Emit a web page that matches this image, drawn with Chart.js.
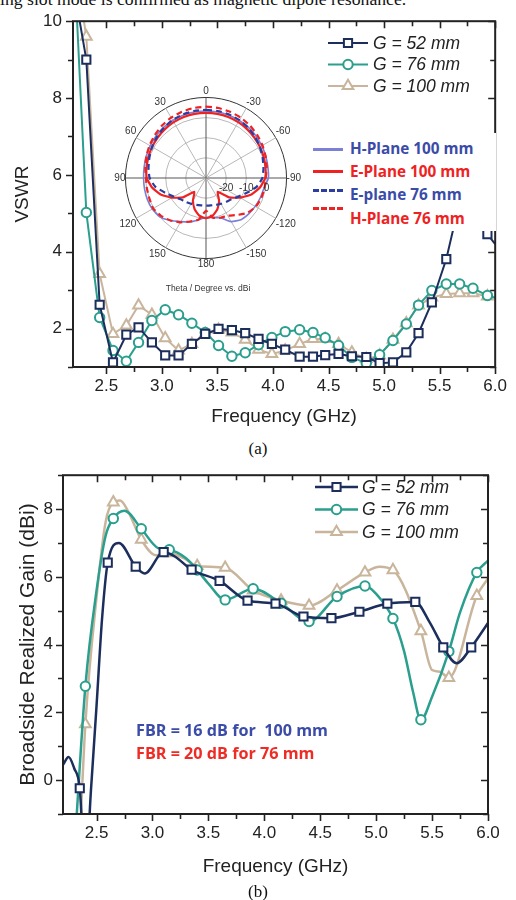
<!DOCTYPE html>
<html>
<head>
<meta charset="utf-8">
<script src="https://cdn.jsdelivr.net/npm/chart.js@4.4.1/dist/chart.umd.min.js"></script>
<style>
    html, body { margin: 0; padding: 0; background: #fff; }
    body { width: 516px; height: 900px; position: relative; overflow: hidden; font-family: "Liberation Sans", Arial, sans-serif; }
    .abs { position: absolute; }
    .serif { font-family: "Liberation Serif", "Times New Roman", serif; color: #111; white-space: nowrap; }
    #polarLegend { left: 306px; top: 133px; width: 190px; height: 98px; background: #fff; }
    #polarLegend .sample { position: absolute; left: 7px; width: 30px; height: 0; }
    #polarLegend .txt { position: absolute; left: 44px; font: 700 15.3px "Open Sans", sans-serif; line-height: 20px; white-space: nowrap; }
    .fbr { font: 700 16.2px "Open Sans", sans-serif; line-height: 20px; white-space: nowrap; }
</style>
</head>
<body>
<div class="abs serif" style="left:0; top:-9px; font-size:17.7px; line-height:17px;">ing slot mode is confirmed as magnetic dipole resonance.</div>

<canvas id="vswrChart" class="abs" width="516" height="430" style="left:0; top:0;"></canvas>
<canvas id="polarChart" class="abs" width="190" height="190" style="left:113px; top:83px;"></canvas>
<div class="abs" style="left:108px; top:283px; width:200px; text-align:center; font-size:8.5px; color:#333;">Theta / Degree vs. dBi</div>

<div id="polarLegend" class="abs">
    <div class="sample" style="top:15px; border-top:3px solid #7b7fd6;"></div>
    <div class="txt" style="top:5px; color:#3b4ba8;">H-Plane 100 mm</div>
    <div class="sample" style="top:37px; border-top:3px solid #ee2222;"></div>
    <div class="txt" style="top:28px; color:#ee2222;">E-Plane 100 mm</div>
    <div class="sample" style="top:56px; border-top:3px dashed #2b3da0;"></div>
    <div class="txt" style="top:51px; color:#3b4ba8;">E-plane 76 mm</div>
    <div class="sample" style="top:74px; border-top:3px dashed #ee2222;"></div>
    <div class="txt" style="top:75px; color:#ee2222;">H-Plane 76 mm</div>
</div>

<div class="abs serif" style="left:0; width:516px; top:439px; text-align:center; font-size:17px;">(a)</div>

<canvas id="gainChart" class="abs" width="516" height="430" style="left:0; top:455px;"></canvas>
<div class="abs fbr" style="left:136px; top:720px; color:#3b4ba8;">FBR = 16 dB for&nbsp; 100 mm</div>
<div class="abs fbr" style="left:136px; top:743px; color:#ef2b25;">FBR = 20 dB for 76 mm</div>

<div class="abs serif" style="left:0; width:516px; top:882px; text-align:center; font-size:17px;">(b)</div>

<script>
// (a) VSWR vs frecuencia
const freqVswr = [2.2, 2.32, 2.44, 2.56, 2.68, 2.79, 2.91, 3.03, 3.15, 3.27, 3.39, 3.51, 3.63, 3.75, 3.87, 3.99, 4.11,
    4.24, 4.36, 4.47, 4.59, 4.71, 4.84, 4.96, 5.08, 5.2, 5.31, 5.43, 5.56, 5.68, 5.8, 5.93, 6.0];
const vswr52 = [11.0, 9.0, 2.62, 1.12, 1.84, 2.03, 1.64, 1.3, 1.3, 1.6, 1.86, 1.99, 1.96, 1.88, 1.73, 1.6, 1.45,
    1.27, 1.27, 1.31, 1.34, 1.28, 1.26, 1.1, 1.12, 1.38, 1.88, 2.68, 3.81, 5.3, 5.0, 4.46, 4.2];
const vswr76 = [12.2, 5.02, 2.29, 1.43, 1.15, 1.64, 2.21, 2.49, 2.36, 2.14, 1.9, 1.56, 1.28, 1.37, 1.58, 1.77, 1.92,
    1.97, 1.9, 1.76, 1.56, 1.25, 1.1, 1.32, 1.69, 2.12, 2.61, 2.99, 3.16, 3.16, 3.05, 2.86, 2.8];
const vswr100 = [11.8, 9.6, 3.42, 1.86, 2.08, 2.6, 2.36, 1.75, 1.43, 1.6, 1.86, 1.97, 1.9, 1.71, 1.45, 1.34, 1.43,
    1.6, 1.73, 1.73, 1.6, 1.38, 1.21, 1.3, 1.71, 2.14, 2.6, 2.81, 2.9, 2.92, 2.92, 2.84, 2.82];
const vswrTicks = [2, 4, 6, 8, 10];
const freqTicks = [2.5, 3.0, 3.5, 4.0, 4.5, 5.0, 5.5, 6.0];

// (b) ganancia broadside
const freqGain52 = [2.2, 2.25, 2.3, 2.35, 2.4, 2.45, 2.5, 2.55, 2.6, 2.7, 2.85, 2.93, 3.1, 3.2, 3.35, 3.6, 3.85, 4.1,
    4.35, 4.6, 4.85, 5.1, 5.35, 5.48, 5.6, 5.72, 5.85, 6.0];
const gain52 = [0.45, 0.68, 0.35, -0.24, -2.8, -0.3, 2.2, 4.8, 6.42, 7.0, 6.3, 6.1, 6.73, 6.6, 6.21, 5.88, 5.3, 5.21,
    4.83, 4.78, 4.97, 5.21, 5.26, 4.65, 3.92, 3.45, 3.92, 4.64];
const marks52 = [2.35, 2.6, 2.85, 3.1, 3.35, 3.6, 3.85, 4.1, 4.35, 4.6, 4.85, 5.1, 5.35, 5.6, 5.85];

const freqGain76 = [2.3, 2.4, 2.5, 2.58, 2.65, 2.75, 2.9, 3.05, 3.15, 3.3, 3.4, 3.5, 3.65, 3.9, 4.15, 4.4, 4.65, 4.9,
    5.0, 5.15, 5.25, 5.33, 5.4, 5.5, 5.65, 5.75, 5.9, 6.0];
const gain76 = [-2.2, 2.77, 5.6, 7.2, 7.72, 7.95, 7.42, 6.85, 6.8, 6.55, 6.2, 5.8, 5.32, 5.65, 5.22, 4.68, 5.42, 5.73,
    5.5, 4.77, 3.8, 2.6, 1.78, 2.46, 3.8, 4.95, 6.13, 6.48];

const freqGain100 = [2.34, 2.4, 2.5, 2.58, 2.65, 2.71, 2.78, 2.9, 3.03, 3.15, 3.28, 3.4, 3.65, 3.9, 4.15, 4.4, 4.65,
    4.9, 5.03, 5.15, 5.4, 5.5, 5.57, 5.65, 5.9, 6.0];
const gain100 = [-2.5, 1.65, 5.4, 7.6, 8.2, 8.25, 7.95, 7.1, 6.64, 6.7, 6.55, 6.32, 6.27, 5.6, 5.3, 5.15, 5.6,
    6.13, 6.3, 6.2, 4.4, 3.25, 3.2, 3.02, 5.44, 5.95];
const marks76 = [2.4, 2.65, 2.9, 3.15, 3.4, 3.65, 3.9, 4.15, 4.4, 4.65, 4.9, 5.15, 5.4, 5.65, 5.9];
const gainTicks = [0, 2, 4, 6, 8];

// patron de radiacion (inset), theta en sentido horario desde arriba
const thetaLabels = [0, -10, -20, -30, -40, -50, -60, -70, -80, -90, -100, -110, -120, -130, -140, -150, -160, -170,
    180, 170, 160, 150, 140, 130, 120, 110, 100, 90, 80, 70, 60, 50, 40, 30, 20, 10];
const hPlane100 = [3.3, 3.3, 3.2, 3.0, 2.8, 2.4, 2.0, 1.6, 1.2, 1.0, -0.8, -1.3, -1.8, -2.3, -3.0, -5.0, -9.0, -10.0,
    -10.5, -9.0, -6.8, -5.0, -2.5, 0.0, 0.8, 1.0, 1.0, 1.0, 1.2, 1.6, 2.0, 2.4, 2.8, 3.0, 3.2, 3.3];
const ePlane100 = [2.3, 2.3, 2.2, 2.0, 1.7, 1.3, 0.9, 0.5, 0.0, -0.6, -2.8, -6.0, -10.5, -15.0, -21.0, -17.0, -13.5, -11.0,
    -10.0, -11.0, -13.5, -17.0, -21.0, -15.0, -10.5, -6.0, -2.8, -0.6, 0.0, 0.5, 0.9, 1.3, 1.7, 2.0, 2.2, 2.3];
const ePlane76 = [3.8, 3.8, 3.6, 3.2, 2.6, 1.8, 0.9, -0.1, -1.0, -2.0, -4.5, -8.5, -11.5, -13.5, -14.5, -15.2, -15.8, -16.2,
    -16.3, -16.2, -15.8, -15.2, -14.5, -13.5, -11.5, -8.5, -4.5, -2.0, -1.0, -0.1, 0.9, 1.8, 2.6, 3.2, 3.6, 3.8];
const hPlane76 = [5.4, 5.3, 5.0, 4.6, 4.0, 3.2, 2.4, 1.5, 0.6, -0.3, -0.5, -0.8, -1.5, -3.1, -6.0, -8.4, -9.0, -10.0,
    -13.7, -9.0, -7.0, -4.6, -2.5, -0.8, 0.3, -0.1, -0.2, -0.2, 0.6, 1.5, 2.4, 3.2, 4.0, 4.6, 5.0, 5.3];
const ringTicks = [-20, -10, 0];

const FONT = '"Liberation Sans", Arial, sans-serif';
const NAVY = '#1c2e5c', TEAL = '#2a9f8e', TAN = '#c9b59c';
const markerSize = { rect: 5.8, circle: 4.7, triangle: 6.2 };

function toPoints(xs, ys) {
    return xs.map((x, i) => ({ x: x, y: ys[i] }));
}

function isMark(list, x) {
    return list.some(m => Math.abs(m - x) < 1e-6);
}

// marcas de los ejes: hacia afuera abajo/izquierda, hacia adentro arriba/derecha, y el marco
const framePlugin = {
    id: 'frame',
    afterDraw(chart) {
        const { ctx, chartArea: a, scales } = chart;
        ctx.save();
        ctx.strokeStyle = '#222';
        ctx.lineWidth = 1.6;
        ctx.beginPath();
        scales.x.ticks.forEach(t => {
            const px = Math.round(scales.x.getPixelForValue(t.value)) + 0.5;
            const len = t.label !== '' ? 7 : 5;
            ctx.moveTo(px, a.bottom); ctx.lineTo(px, a.bottom + len);
            ctx.moveTo(px, a.top); ctx.lineTo(px, a.top + len);
        });
        scales.y.ticks.forEach(t => {
            const py = Math.round(scales.y.getPixelForValue(t.value)) + 0.5;
            const len = t.label !== '' ? 7 : 5;
            ctx.moveTo(a.left, py); ctx.lineTo(a.left - len, py);
            ctx.moveTo(a.right, py); ctx.lineTo(a.right - len, py);
        });
        ctx.stroke();
        ctx.lineWidth = 2;
        ctx.strokeRect(a.left, a.top, a.right - a.left, a.bottom - a.top);
        ctx.restore();
    }
};

// leyenda con linea + marcador, como en el original
const seriesLegend = {
    id: 'seriesLegend',
    afterDraw(chart, args, opts) {
        const ctx = chart.ctx;
        chart.data.datasets.forEach((ds, i) => {
            const y = opts.y + i * opts.dy;
            ctx.save();
            ctx.strokeStyle = ds.borderColor;
            ctx.lineWidth = ds.borderWidth;
            ctx.beginPath();
            ctx.moveTo(opts.x, y);
            ctx.lineTo(opts.x + opts.w, y);
            ctx.stroke();
            ctx.fillStyle = '#fff';
            ctx.lineWidth = 2;
            Chart.helpers.drawPoint(ctx, { pointStyle: ds.pointStyle, radius: markerSize[ds.pointStyle], borderWidth: 2, rotation: 0 },
                opts.x + opts.w / 2, y);
            ctx.fillStyle = '#222';
            ctx.font = 'italic 17.5px ' + FONT;
            ctx.textBaseline = 'middle';
            ctx.fillText(ds.label, opts.textX, y + 1);
            ctx.restore();
        });
    }
};

function freqAxis(height, titlePad) {
    return {
        type: 'linear', min: 2.2, max: 6.0,
        grid: { display: false, drawTicks: false },
        border: { display: false },
        afterBuildTicks: s => { s.ticks = s.ticks.filter(t => Math.abs(t.value * 4 - Math.round(t.value * 4)) < 1e-6); },
        afterFit: s => { s.height = height; },
        ticks: {
            stepSize: 0.25, autoSkip: false, maxRotation: 0, padding: 9, color: '#222',
            font: { size: 17, family: FONT },
            callback: v => isMark(freqTicks, v) ? v.toFixed(1) : ''
        },
        title: { display: true, text: 'Frequency (GHz)', color: '#222', font: { size: 19, family: FONT }, padding: { top: 0, bottom: titlePad } }
    };
}

function valueAxis(min, max, labels, width, title, titleSize, titlePad, pad) {
    return {
        type: 'linear', min: min, max: max,
        grid: { display: false, drawTicks: false },
        border: { display: false },
        afterFit: s => { s.width = width; },
        ticks: {
            stepSize: 1, autoSkip: false, padding: pad, color: '#222',
            font: { size: 17, family: FONT },
            callback: v => labels.includes(v) ? String(v) : ''
        },
        title: { display: true, text: title, color: '#222', font: { size: titleSize, family: FONT }, padding: { top: titlePad, bottom: 0 } }
    };
}

function series(label, pts, color, style, radiusFn, width) {
    return {
        label: label, data: pts,
        borderColor: color, borderWidth: width,
        pointStyle: style, pointBackgroundColor: '#fff', pointBorderColor: color, pointBorderWidth: 2,
        pointRadius: radiusFn, pointHoverRadius: radiusFn,
        fill: false
    };
}

// grafica (a)
function vswrRadius(style) {
    return ctx => (ctx.dataIndex === 0 || ctx.dataIndex === freqVswr.length - 1) ? 0 : markerSize[style];
}

new Chart(document.getElementById('vswrChart'), {
    type: 'line',
    data: {
        datasets: [
            series('G = 52 mm', toPoints(freqVswr, vswr52), NAVY, 'rect', vswrRadius('rect'), 2),
            series('G = 76 mm', toPoints(freqVswr, vswr76), TEAL, 'circle', vswrRadius('circle'), 2),
            series('G = 100 mm', toPoints(freqVswr, vswr100), TAN, 'triangle', vswrRadius('triangle'), 2)
        ]
    },
    options: {
        responsive: false, animation: false,
        layout: { padding: { top: 20, right: 14, left: 0, bottom: 0 } },
        elements: { line: { tension: 0 } },
        plugins: {
            legend: { display: false }, tooltip: { enabled: false },
            seriesLegend: { x: 328, y: 43, dy: 21.5, w: 40, textX: 373 }
        },
        scales: {
            x: freqAxis(63, 1.6),
            y: valueAxis(1, 10, vswrTicks, 73, 'VSWR', 19, 11.6, 11)
        }
    },
    plugins: [framePlugin, seriesLegend]
});

// inset polar
const ringLabels = {
    id: 'ringLabels',
    afterDraw(chart) {
        const s = chart.scales.r, ctx = chart.ctx;
        ctx.save();
        ctx.font = '10px ' + FONT;
        ctx.fillStyle = '#333';
        ctx.textAlign = 'center';
        ctx.textBaseline = 'middle';
        ringTicks.forEach(v => ctx.fillText(String(v), s.xCenter + s.getDistanceFromCenterForValue(v), s.yCenter + 10));
        ctx.restore();
    }
};

function pattern(label, data, color, dash, width, order) {
    return {
        label: label, data: data, borderColor: color, borderDash: dash, borderWidth: width,
        fill: false, pointRadius: 0, tension: 0.15, order: order
    };
}

new Chart(document.getElementById('polarChart'), {
    type: 'radar',
    data: {
        labels: thetaLabels,
        datasets: [
            pattern('H-Plane 100 mm', hPlane100, '#7b7fd6', [], 1.6, 4),
            pattern('E-Plane 100 mm', ePlane100, '#ee2222', [], 2.2, 3),
            pattern('E-plane 76 mm', ePlane76, '#2b3da0', [6, 4], 2.2, 2),
            pattern('H-Plane 76 mm', hPlane76, '#ee2222', [6, 4], 2.2, 1)
        ]
    },
    options: {
        responsive: false, animation: false,
        plugins: { legend: { display: false }, tooltip: { enabled: false } },
        scales: {
            r: {
                min: -30, max: 10,
                ticks: { display: false, stepSize: 10 },
                grid: {
                    circular: true,
                    color: ctx => (ctx.tick && ctx.tick.value === 10) ? '#333' : '#b8b8b8',
                    lineWidth: 1
                },
                angleLines: {
                    color: ctx => ctx.index % 9 === 0 ? '#555' : (ctx.index % 3 === 0 ? '#b8b8b8' : 'rgba(0,0,0,0)'),
                    lineWidth: 1
                },
                pointLabels: {
                    callback: (l, i) => i % 3 === 0 ? String(l) : '',
                    font: { size: 10, family: FONT }, color: '#333', padding: 0
                }
            }
        }
    },
    plugins: [ringLabels]
});

// grafica (b)
function gainRadius(marks, style) {
    return ctx => isMark(marks, ctx.raw.x) ? markerSize[style] : 0;
}

new Chart(document.getElementById('gainChart'), {
    type: 'line',
    data: {
        datasets: [
            series('G = 52 mm', toPoints(freqGain52, gain52), NAVY, 'rect', gainRadius(marks52, 'rect'), 2.5),
            series('G = 76 mm', toPoints(freqGain76, gain76), TEAL, 'circle', gainRadius(marks76, 'circle'), 2.5),
            series('G = 100 mm', toPoints(freqGain100, gain100), TAN, 'triangle', gainRadius(marks76, 'triangle'), 2.5)
        ]
    },
    options: {
        responsive: false, animation: false,
        layout: { padding: { top: 8, right: 28, left: 0, bottom: 0 } },
        elements: { line: { cubicInterpolationMode: 'monotone' } },
        plugins: {
            legend: { display: false }, tooltip: { enabled: false },
            seriesLegend: { x: 315, y: 32, dy: 22.5, w: 43, textX: 362 }
        },
        scales: {
            x: freqAxis(71, 6.6),
            y: valueAxis(-1, 9, gainTicks, 63, 'Broadside Realized Gain (dBi)', 21, 15.4, 10)
        }
    },
    plugins: [framePlugin, seriesLegend]
});
</script>
</body>
</html>
